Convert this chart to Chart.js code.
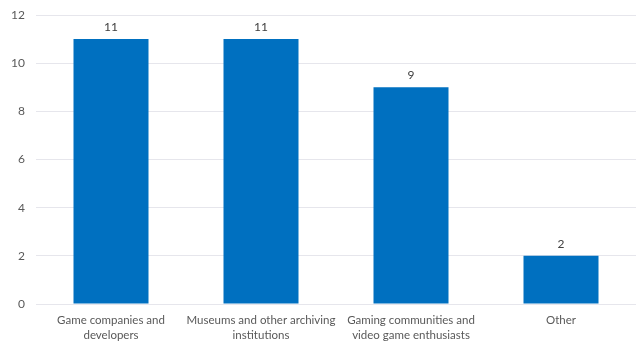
<!DOCTYPE html>
<html>
<head>
<meta charset="utf-8">
<script src="https://cdn.jsdelivr.net/npm/chart.js@4/dist/chart.umd.min.js"></script>
<style>
  html, body { margin: 0; padding: 0; background: #fff; }
  #wrap { width: 639px; height: 341px; position: relative; }
</style>
</head>
<body>
<div id="wrap"><canvas id="c"></canvas></div>
<script>
const categories = [
  ["Game companies and", "developers"],
  ["Museums and other archiving", "institutions"],
  ["Gaming communities and", "video game enthusiasts"],
  ["Other"]
];
const counts = [11, 11, 9, 2];
const yTicks = [0, 2, 4, 6, 8, 10, 12];

const FONT = "Lato, 'Open Sans', sans-serif";

// Writes each bar's value just above it
const valueLabels = {
  id: 'valueLabels',
  afterDatasetsDraw(chart) {
    const ctx = chart.ctx;
    const meta = chart.getDatasetMeta(0);
    ctx.save();
    ctx.font = "12px " + FONT;
    ctx.fillStyle = '#404040';
    ctx.textAlign = 'center';
    ctx.textBaseline = 'bottom';
    meta.data.forEach((bar, i) => {
      ctx.fillText(String(counts[i]), bar.x, bar.y - 6);
    });
    ctx.restore();
  }
};

new Chart(document.getElementById('c'), {
  type: 'bar',
  data: {
    labels: categories,
    datasets: [{
      data: counts,
      backgroundColor: '#0070C0',
      borderWidth: 0,
      categoryPercentage: 1,
      barPercentage: 0.5
    }]
  },
  options: {
    responsive: true,
    maintainAspectRatio: false,
    animation: false,
    layout: { padding: { top: 15, right: 3, left: 0, bottom: 0 } },
    plugins: { legend: { display: false }, tooltip: { enabled: false } },
    scales: {
      x: {
        grid: { display: false, drawTicks: false },
        border: { display: false },
        ticks: {
          color: '#595959',
          font: { family: FONT, size: 11.5, lineHeight: 1.3 },
          padding: 9,
          maxRotation: 0,
          autoSkip: false
        },
        afterFit(s) { s.height = 37; }
      },
      y: {
        min: 0,
        max: 12,
        afterBuildTicks(s) { s.ticks = yTicks.map(v => ({ value: v })); },
        grid: { color: '#E6E6EC', lineWidth: 1, drawTicks: false },
        border: { display: false },
        ticks: {
          color: '#595959',
          font: { family: FONT, size: 12 },
          padding: 11
        },
        afterFit(s) {
          s.width = 36;
          s.paddingTop = 0;
          s.paddingBottom = 0;
        }
      }
    }
  },
  plugins: [valueLabels]
});
</script>
</body>
</html>
